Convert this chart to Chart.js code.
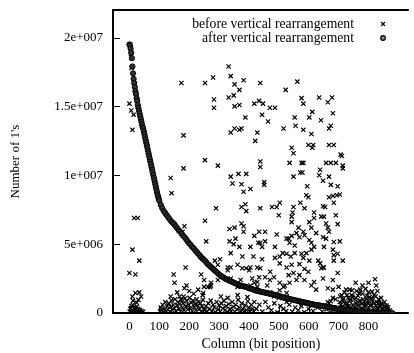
<!DOCTYPE html>
<html>
<head>
<meta charset="utf-8">
<script src="https://cdn.jsdelivr.net/npm/chart.js@4.4.0/dist/chart.umd.min.js"></script>
<style>
  html, body { margin: 0; padding: 0; background: #fff; }
  #wrap { width: 414px; height: 353px; }
</style>
</head>
<body>
<div id="wrap"><canvas id="chart" width="414" height="353"></canvas></div>
<script>
// values are [column, number of 1's in millions]
const seriesNames = ['before vertical rearrangement', 'after vertical rearrangement'];

const xTickValues = [0, 100, 200, 300, 400, 500, 600, 700, 800];
const yTickValues = [0, 5, 10, 15, 20];
const yTickLabels = ['0', '5e+006', '1e+007', '1.5e+007', '2e+007'];

// before: scattered columns, upper part of the plot
const beforeHigh = [
  [3,19.5],[5,18.8],[7,17.8],[0,15.2],[6,14.7],[14,14.4],[10,13.3],
  [174,16.7],[253,16.7],[181,12.9],[181,10.5],[253,11.1],[138,9.8],[141,8.7],
  [332,17.9],[280,17.1],[339,17.2],[352,16.6],[382,16.9],[368,16.2],[438,16.7],[523,16.2],[562,16.8],
  [283,15.5],[283,14.9],[332,15.65],[349,15.8],[352,15.0],[368,15.1],[418,15.2],[434,15.4],[447,15.2],
  [470,14.9],[487,14.9],[576,15.6],[582,15.2],[635,15.65],[664,15.3],[678,15.65],
  [388,14.2],[444,14.4],[464,13.9],[553,14.2],[602,14.2],[612,14.6],[681,14.5],[641,14.0],[674,13.6],
  [339,13.1],[352,13.4],[368,13.3],[375,13.4],[428,13.1],[516,13.4],[556,13.6],[582,13.3],[609,13.0],[668,13.4],
  [421,12.5],[543,12.0],[549,11.6],[599,12.2],[615,12.2],[612,12.0],[668,12.2],[684,12.2],[707,11.5],
  [711,11.4],[658,10.9],[674,10.9],[691,10.9],[714,10.7],[714,10.5],[582,10.9],[579,10.2],
  [296,10.7],[438,11.0],[438,10.6],[536,10.9],[576,10.9]
];

// before: middle band
const beforeMid = [
  [16,6.9],[28,6.9],[253,6.7],[184,6.3],[178,5.9],[257,5.2],[10,4.6],[33,3.8],[237,4.1],[188,3.3],
  [0,2.9],[20,2.8],[148,2.8],[240,2.8],[151,2.2],[250,2.4],[191,2.0],[184,1.8],[250,1.9],[263,1.9],
  [10,1.2],[20,1.45],[33,1.5],[39,1.2],[138,1.2],[168,1.2],[181,1.2],
  [339,9.9],[345,9.4],[365,10.1],[391,10.1],[375,9.35],[382,8.8],[405,9.0],[451,9.5],[451,9.3],[549,9.9],[572,10.2],
  [290,7.6],[375,7.7],[388,7.9],[391,7.4],[438,7.6],[477,7.7],[493,7.7],[503,8.0],[500,7.1],
  [549,7.7],[546,7.3],[543,7.0],[543,6.6],[572,8.0],
  [375,6.5],[382,6.3],[335,6.1],[352,6.2],[382,5.9],[418,5.6],[434,5.9],[454,5.9],[493,5.7],
  [533,5.4],[543,5.6],[559,5.8],[566,6.2],
  [335,5.2],[355,5.4],[349,5.0],[368,4.8],[405,4.8],[431,5.1],[438,5.1],[454,5.2],[444,4.8],[487,4.8],
  [526,5.4],[536,5.1],[553,4.9],[569,5.5],
  [339,4.35],[378,4.1],[415,4.1],[444,3.9],[487,4.0],[503,4.1],[513,4.35],[526,4.3],[540,4.1],[553,4.35],[576,4.3],
  [286,3.8],[303,3.9],[296,3.5],[329,3.3],[339,3.3],[362,3.5],[378,3.25],[391,3.25],[405,3.3],[438,3.25],
  [503,3.6],[526,3.3],[543,3.5],[569,3.55],
  [273,2.2],[270,1.9],[306,1.2],[329,1.1],[362,1.3],[411,2.5],[418,2.2],[428,1.9],[428,2.25],
  [454,2.6],[471,3.0],[484,2.6],[461,2.0],[471,1.5],[484,1.2],[503,2.2],[516,1.9],[500,1.1],
  [526,1.45],[526,0.8],[533,2.75],[549,2.9],[569,2.75],[559,2.4],[536,2.2],
  [247,1.45],[273,2.0],[296,2.4],[329,3.1],[339,2.5],[362,1.9],[372,2.4],[401,3.1],[405,2.0],
  [428,3.3],[434,2.6],[470,2.4],[395,1.15],[418,0.8],[503,1.65],[520,2.0],[526,1.15],
  [160,1.5],[200,1.6],[215,1.4],[230,1.7],[245,1.3]
];

// before: right block
const beforeRight = [
  [638,10.4],[635,10.0],[668,9.9],[648,9.6],[595,9.2],[674,9.3],[697,9.2],
  [592,8.55],[599,8.4],[668,8.4],[681,8.5],[694,8.55],[704,8.6],[586,7.6],[684,8.0],[648,7.75],[655,7.7],
  [618,7.3],[618,6.9],[602,6.6],[642,7.0],[651,7.0],[658,6.5],[664,6.2],[691,7.1],[697,6.45],
  [582,5.9],[609,6.2],[586,5.65],[625,5.8],[648,5.5],[658,5.4],[668,5.9],[684,5.15],[704,5.2],
  [602,5.3],[609,5.1],[618,4.8],[609,4.6],[592,4.35],[651,4.8],[681,4.6],[684,4.2],[697,4.3],
  [582,4.0],[602,3.8],[632,3.8],[638,3.6],[648,3.3],[684,3.8],[714,3.8],
  [586,3.2],[599,3.0],[642,3.25],[651,3.3],[697,2.9],[586,2.4],[618,2.25],[648,2.5],[681,2.4],
  [609,2.0],[625,1.7],[664,1.8],[681,1.7],[668,0.7],[674,0.85],[681,1.1],[664,0.8],
  [700,1.9],[710,1.3],[690,1.0],
  [757,2.2],[780,2.0],[800,2.2],[822,2.45],[826,2.0],[737,1.7],[773,1.7],[800,1.5],[862,0.45],
  [725,1.7],[745,1.65],[760,1.6],[790,1.75],[812,1.55],[830,1.6]
];

// before: columns close to zero
const beforeLow = [
  [1,0.1],[3,0.3],[5,0.05],[7,0.5],[9,0.2],[11,0.6],[13,0.15],[15,0.35],[17,0.08],[19,0.4],[21,0.25],
  [23,0.12],[25,0.45],[27,0.05],[29,0.3],[31,0.18],[33,0.1],[35,0.22],[37,0.06],[40,0.14],[43,0.04],[46,0.09],
  [12,0.9],[24,0.75],[30,0.95],
  [102,0.1],[105,0.4],[108,0.2],[111,0.6],[114,0.05],[117,0.3],[120,0.8],[123,0.15],[126,0.5],[129,0.25],
  [132,0.7],[135,0.1],[138,0.45],[141,0.9],[144,0.2],[147,0.6],[150,0.35],[153,1.0],[156,0.15],[159,0.55],
  [162,0.8],[165,0.3],[168,0.65],[171,0.1],[174,0.95],[177,0.4],[180,0.7],[183,0.2],[186,1.05],[189,0.5],
  [192,0.85],[195,0.25],[198,0.6],[201,1.1],[204,0.35],[207,0.75],[210,0.15],[213,0.9],[216,0.45],[219,0.65],
  [222,0.2],[225,1.0],[228,0.55],[231,0.8],[234,0.3],[237,0.7],[240,0.1],[243,0.5],[246,0.95],[249,0.25],
  [252,0.2],[256,0.5],[260,0.1],[264,0.7],[268,0.3],[272,0.9],[276,0.15],[280,0.6],[284,0.4],[288,0.05],
  [292,0.8],[296,0.25],[300,0.55],[304,0.1],[308,0.7],[312,0.35],[316,0.9],[320,0.2],[324,0.5],[328,0.05],
  [332,0.65],[336,0.3],[340,0.15],[344,0.8],[348,0.45],[352,0.1],[356,0.6],[360,0.25],[364,0.95],[368,0.4],
  [372,0.15],[376,0.7],[380,0.3],[384,0.05],[388,0.55],[392,0.2],[396,0.85],[400,0.4],[404,0.1],[408,0.6],
  [412,0.3],[416,0.15],
  [425,0.3],[435,0.6],[445,0.1],[455,0.8],[465,0.4],[475,0.2],[485,0.7],[495,0.05],[505,0.5],[515,0.3],
  [525,0.15],[535,0.6],[545,0.1],[555,0.4],[565,0.2],[575,0.5],[585,0.05],[600,0.3],[615,0.15],[630,0.4],
  [645,0.1],[660,0.25],[675,0.05],[690,0.2],
  [702,0.3],[705,1.2],[708,0.6],[711,0.1],[714,0.9],[717,0.4],[720,1.5],[723,0.2],[726,0.75],[729,0.5],
  [732,1.1],[735,0.05],[738,0.85],[741,0.35],[744,1.3],[747,0.6],[750,0.15],[753,1.0],[756,0.45],[759,0.7],
  [762,0.25],[765,1.25],[768,0.55],[771,0.9],[774,0.1],[777,0.65],[780,1.4],[783,0.3],[786,0.8],[789,0.5],
  [792,1.05],[795,0.2],[798,0.7],[801,0.4],[804,1.15],[807,0.05],[810,0.6],[813,0.9],[816,0.3],[819,1.3],
  [822,0.15],[825,0.55],[828,0.8],[831,0.35],[834,1.0],[837,0.1],[840,0.5],[843,0.7],[846,0.25],[849,0.6],
  [852,0.45],[855,0.15],[858,0.35],[861,0.1],[864,0.25],[868,0.05],
  [704,0.8],[710,0.45],[716,1.05],[722,0.65],[728,1.3],[734,0.5],[740,0.95],[746,1.2],[752,0.35],[758,1.1],
  [764,0.8],[770,1.45],[776,0.3],[782,1.0],[788,0.65],[794,1.25],[800,0.9],[806,0.55],[812,1.05],[818,0.7],
  [824,1.2],[830,0.45],[836,0.75],[842,1.1],[848,0.35],[854,0.8],[860,0.55],[866,0.4],[872,0.2]
];

// after: columns sorted by their count
const afterCurve = [
  [0,19.5],[2,19.4],[4,19.2],[6,18.9],[8,18.5],[10,17.9],[12,17.4],[14,17.0],[16,16.7],[18,16.4],
  [20,16.1],[22,15.9],[24,15.6],[26,15.4],[28,15.1],[30,14.9],[32,14.7],[34,14.5],[36,14.3],[38,14.1],
  [40,13.9],[42,13.7],[44,13.5],[46,13.4],[48,13.2],[50,13.0],[52,12.8],[54,12.6],[56,12.4],[58,12.2],
  [60,12.0],[62,11.8],[64,11.6],[66,11.4],[68,11.2],[70,11.0],[72,10.8],[74,10.6],[76,10.4],[78,10.2],
  [80,10.0],[82,9.8],[84,9.6],[86,9.4],[88,9.2],[90,9.0],[92,8.8],[94,8.6],[96,8.45],[98,8.3],[100,8.15],
  [105,7.85],[110,7.6],[115,7.4],[120,7.25],[125,7.1],[130,6.95],[135,6.8],[140,6.65],[145,6.55],[150,6.45],
  [155,6.3],[160,6.15],[165,6.0],[170,5.9],[175,5.75],[180,5.6],[185,5.5],[190,5.35],[195,5.2],[200,5.05],
  [205,4.95],[210,4.8],[215,4.7],[220,4.55],[225,4.45],[230,4.3],[235,4.2],[240,4.05],[245,3.95],[250,3.85],
  [255,3.75],[260,3.6],[265,3.5],[270,3.4],[275,3.3],[280,3.2],[285,3.1],[290,3.0],[295,2.9],[300,2.8],
  [305,2.72],[310,2.65],[315,2.58],[320,2.5],[325,2.45],[330,2.4],[335,2.35],[340,2.3],[345,2.25],[350,2.2],
  [355,2.15],[360,2.1],[365,2.05],[370,2.0],[375,1.97],[380,1.95],[385,1.92],[390,1.9],[395,1.85],[400,1.8],
  [405,1.77],[410,1.75],[415,1.7],[420,1.65],[425,1.62],[430,1.6],[435,1.57],[440,1.55],[445,1.52],[450,1.5],
  [455,1.47],[460,1.45],[465,1.42],[470,1.4],[475,1.37],[480,1.35],[485,1.32],[490,1.3],[495,1.27],[500,1.25],
  [505,1.2],[510,1.15],[515,1.12],[520,1.1],[525,1.07],[530,1.05],[535,1.02],[540,1.0],[545,0.97],[550,0.95],
  [555,0.92],[560,0.9],[565,0.87],[570,0.85],[575,0.82],[580,0.8],[585,0.77],[590,0.75],[595,0.72],[600,0.7],
  [605,0.67],[610,0.65],[615,0.62],[620,0.6],[625,0.58],[630,0.57],[635,0.55],[640,0.53],[645,0.51],[650,0.5],
  [655,0.48],[660,0.46],[665,0.44],[670,0.42],[675,0.4],[680,0.38],[685,0.36],[690,0.34],[695,0.32],[700,0.3],
  [705,0.28],[710,0.27],[715,0.25],[720,0.24],[725,0.22],[730,0.21],[735,0.2],[740,0.18],[745,0.17],[750,0.15],
  [755,0.14],[760,0.13],[765,0.12],[770,0.11],[775,0.1],[780,0.09],[785,0.08],[790,0.07],[795,0.065],[800,0.06],
  [805,0.055],[810,0.05],[815,0.045],[820,0.04],[825,0.035],[830,0.03],[835,0.025],[840,0.02],[845,0.02],[850,0.02],
  [855,0.015],[860,0.01],[865,0.01],[870,0.01],[875,0.005],[880,0.0]
];

const FONT = "'Liberation Serif', 'Times New Roman', serif";
const toPoints = rows => rows.map(r => ({ x: r[0], y: r[1] }));
const beforeAll = [].concat(beforeHigh, beforeMid, beforeRight, beforeLow);

// frame, inward ticks and a gnuplot-like key
const framePlugin = {
  id: 'frame',
  beforeDatasetsDraw(chart) {
    const { ctx, chartArea: a, scales } = chart;
    ctx.save();
    ctx.strokeStyle = '#000';
    ctx.lineWidth = 1;
    xTickValues.forEach(v => {
      const px = Math.round(scales.x.getPixelForValue(v)) + 0.5;
      ctx.beginPath(); ctx.moveTo(px, a.bottom); ctx.lineTo(px, a.bottom - 7); ctx.stroke();
    });
    yTickValues.forEach(v => {
      const py = Math.round(scales.y.getPixelForValue(v)) + 0.5;
      ctx.beginPath(); ctx.moveTo(a.left, py); ctx.lineTo(a.left + 7, py); ctx.stroke();
    });
    ctx.lineWidth = 2;
    ctx.beginPath();
    ctx.moveTo(a.right, a.top); ctx.lineTo(a.left, a.top);
    ctx.lineTo(a.left, a.bottom); ctx.lineTo(a.right, a.bottom);
    ctx.stroke();
    ctx.restore();
  },
  afterDraw(chart) {
    const { ctx } = chart;
    ctx.save();
    ctx.font = '13.7px ' + FONT;
    ctx.fillStyle = '#000';
    ctx.textAlign = 'right';
    ctx.textBaseline = 'middle';
    chart.data.datasets.forEach((ds, i) => {
      const y = 24 + i * 14;
      ctx.fillText(ds.label, 354, y);
      ctx.strokeStyle = '#000';
      ctx.lineWidth = 1.2;
      const mx = 383;
      if (i === 0) {
        ctx.beginPath();
        ctx.moveTo(mx - 2, y - 2); ctx.lineTo(mx + 2, y + 2);
        ctx.moveTo(mx - 2, y + 2); ctx.lineTo(mx + 2, y - 2);
        ctx.stroke();
      } else {
        ctx.fillStyle = '#888';
        ctx.beginPath(); ctx.arc(mx, y, 2.3, 0, Math.PI * 2); ctx.fill(); ctx.stroke();
        ctx.fillStyle = '#000';
      }
    });
    ctx.restore();
  }
};

new Chart(document.getElementById('chart'), {
  type: 'scatter',
  data: {
    datasets: [
      {
        label: seriesNames[0],
        data: toPoints(beforeAll),
        pointStyle: 'crossRot',
        pointRadius: 3,
        borderColor: '#000',
        borderWidth: 1.2,
        order: 2
      },
      {
        label: seriesNames[1],
        data: toPoints(afterCurve),
        pointStyle: 'circle',
        pointRadius: 2.6,
        borderColor: '#000',
        backgroundColor: '#333',
        borderWidth: 1,
        order: 1
      }
    ]
  },
  options: {
    responsive: false,
    animation: false,
    events: [],
    layout: { padding: { top: 10, right: 0, bottom: 0, left: 0 } },
    plugins: { legend: { display: false }, tooltip: { enabled: false } },
    scales: {
      x: {
        type: 'linear',
        min: -55,
        max: 935,
        afterBuildTicks: s => { s.ticks = xTickValues.map(v => ({ value: v })); },
        afterFit: s => { s.height = 40; s.paddingLeft = 0; s.paddingRight = 0; },
        grid: { display: false, drawTicks: false },
        border: { display: false },
        ticks: { color: '#000', font: { family: FONT, size: 13 }, padding: 6, maxRotation: 0, autoSkip: false },
        title: { display: true, text: 'Column (bit position)', color: '#000', font: { family: FONT, size: 13.7 }, padding: { top: 0, bottom: 0 } }
      },
      y: {
        min: 0,
        max: 22,
        afterBuildTicks: s => { s.ticks = yTickValues.map(v => ({ value: v })); },
        afterFit: s => { s.width = 113; s.paddingTop = 0; s.paddingBottom = 0; },
        grid: { display: false, drawTicks: false },
        border: { display: false },
        ticks: {
          color: '#000',
          font: { family: FONT, size: 13 },
          padding: 10,
          callback: v => yTickLabels[yTickValues.indexOf(v)]
        },
        title: { display: true, text: "Number of 1's", color: '#000', font: { family: FONT, size: 13 }, padding: { top: 8, bottom: 0 } }
      }
    }
  },
  plugins: [framePlugin]
});
</script>
</body>
</html>
